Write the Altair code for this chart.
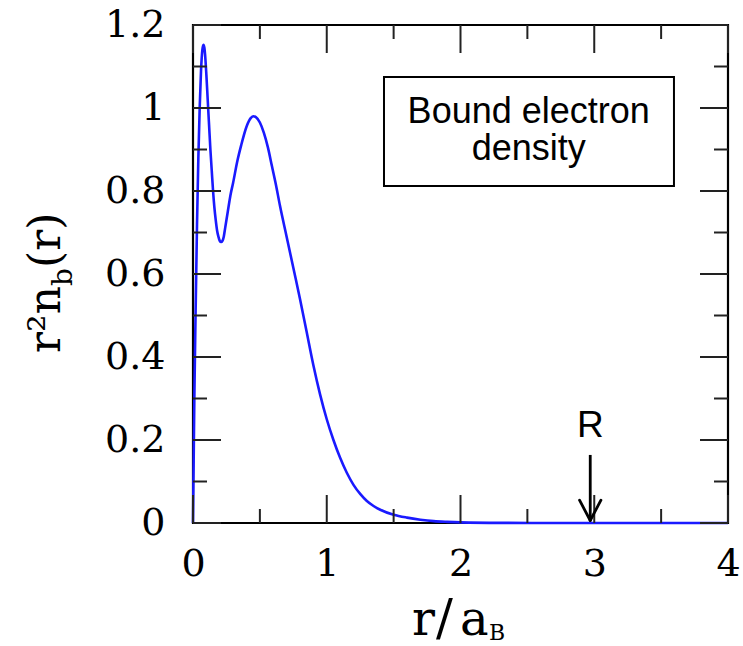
import altair as alt
import pandas as pd

# ---- data ----
r_vals = [0, 0.005, 0.01, 0.02, 0.03, 0.04, 0.05, 0.06, 0.07, 0.078,
          0.085, 0.09, 0.10, 0.11, 0.12, 0.13, 0.14, 0.15, 0.16, 0.17,
          0.18, 0.19, 0.20, 0.21, 0.22, 0.23, 0.24, 0.26, 0.28, 0.30,
          0.33, 0.36, 0.40, 0.43, 0.45, 0.47, 0.50, 0.53, 0.56, 0.59,
          0.62, 0.65, 0.70, 0.75, 0.80, 0.85, 0.90, 0.95, 1.00, 1.05,
          1.10, 1.15, 1.20, 1.25, 1.30, 1.35, 1.40, 1.50, 1.60, 1.70,
          1.80, 1.90, 2.00, 2.30, 2.60, 3.00, 3.50, 4.00]
density = [0, 0.15, 0.30, 0.52, 0.72, 0.88, 1.00, 1.09, 1.14, 1.152,
           1.145, 1.13, 1.08, 1.02, 0.96, 0.90, 0.85, 0.80, 0.76, 0.73,
           0.705, 0.69, 0.68, 0.677, 0.68, 0.69, 0.71, 0.75, 0.79, 0.82,
           0.87, 0.91, 0.955, 0.975, 0.980, 0.978, 0.965, 0.94, 0.905, 0.86,
           0.815, 0.765, 0.69, 0.615, 0.54, 0.46, 0.38, 0.31, 0.25, 0.20,
           0.157, 0.121, 0.092, 0.070, 0.053, 0.041, 0.032, 0.020, 0.013, 0.008,
           0.0045, 0.0027, 0.0015, 0.0003, 0.0001, 0, 0, 0]

x_major = [0, 1, 2, 3, 4]
x_minor = [0.5, 1.5, 2.5, 3.5]
y_major = [0, 0.2, 0.4, 0.6, 0.8, 1.0, 1.2]
y_minor = [0.1, 0.3, 0.5, 0.7, 0.9, 1.1]

box_r = [1.428]
box_r2 = [3.596]
box_v = [0.812]
box_v2 = [1.075]
box_lines = ["Bound electron", "density"]
box_line_r = [2.51, 2.51]
box_line_v = [0.964, 0.875]

marker_label = ["R"]
marker_r = [2.97]
marker_label_v = [0.207]
arrow_top_v = [0.164]
arrow_tip_v = [0.006]
wing_dr = 0.08
wing_v = 0.055

# ---- layout ----
W, H = 535, 498
SERIF = "DejaVu Serif"
SANS = "Liberation Sans"

xs = alt.Scale(domain=[0, 4], nice=False, zero=False)
ys = alt.Scale(domain=[0, 1.2], nice=False, zero=False)

AX = alt.Axis(values=x_major, format="d", title="", domain=False, ticks=False,
              grid=False, labelFont=SERIF, labelFontSize=38, labelColor="black",
              labelPadding=22, labelAngle=0, labelFlush=False, labelOverlap=False)
AY = alt.Axis(values=y_major, format="~g", title="", domain=False, ticks=False,
              grid=False, labelFont=SERIF, labelFontSize=38, labelColor="black",
              labelPadding=28, labelFlush=False, labelOverlap=False)


def X(field="r"):
    return alt.X(f"{field}:Q", scale=xs, axis=AX)


def Y(field="v"):
    return alt.Y(f"{field}:Q", scale=ys, axis=AY)


curve = alt.Chart(pd.DataFrame({"r": r_vals, "v": density})).mark_line(
    color="#1a1aff", strokeWidth=2.6, interpolate="monotone"
).encode(x=X(), y=Y())

TICK_COLOR = "#222222"


def xticks(vals, length, bottom):
    df = pd.DataFrame({"r": vals})
    y0, y1 = (H, H - length) if bottom else (0, length)
    return alt.Chart(df).mark_rule(color=TICK_COLOR, strokeWidth=2).encode(
        x=X(), y=alt.value(y0), y2=alt.value(y1))


def yticks(vals, length, left):
    df = pd.DataFrame({"v": vals})
    x0, x1 = (0, length) if left else (W, W - length)
    return alt.Chart(df).mark_rule(color=TICK_COLOR, strokeWidth=2).encode(
        y=Y(), x=alt.value(x0), x2=alt.value(x1))


MAJ, MIN = 28, 14
ticks = [
    xticks(x_major, MAJ, True), xticks(x_minor, MIN, True),
    xticks(x_major, MAJ, False), xticks(x_minor, MIN, False),
    yticks(y_major, MAJ, True), yticks(y_minor, MIN, True),
    yticks(y_major, MAJ, False), yticks(y_minor, MIN, False),
]

box = alt.Chart(pd.DataFrame({"r": box_r, "r2": box_r2, "v": box_v, "v2": box_v2})).mark_rect(
    fill="white", stroke="black", strokeWidth=2
).encode(x=X(), x2="r2:Q", y=Y(), y2="v2:Q")

box_text = alt.Chart(pd.DataFrame({"r": box_line_r, "v": box_line_v, "t": box_lines})).mark_text(
    font=SANS, fontSize=36, color="black", align="center", baseline="alphabetic"
).encode(x=X(), y=Y(), text="t:N")

r_text = alt.Chart(pd.DataFrame({"r": marker_r, "v": marker_label_v, "t": marker_label})).mark_text(
    font=SANS, fontSize=37, color="black", align="center", baseline="alphabetic"
).encode(x=X(), y=Y(), text="t:N")

shaft = alt.Chart(pd.DataFrame({"r": marker_r, "v": arrow_top_v, "v2": arrow_tip_v})).mark_rule(
    color="black", strokeWidth=2.8
).encode(x=X(), y=Y(), y2="v2:Q")

wings_df = pd.DataFrame({
    "r": [marker_r[0] - wing_dr, marker_r[0] + wing_dr],
    "r2": [marker_r[0], marker_r[0]],
    "v": [wing_v, wing_v],
    "v2": [arrow_tip_v[0], arrow_tip_v[0]],
})
wings = alt.Chart(wings_df).mark_rule(color="black", strokeWidth=2.8, strokeCap="round").encode(
    x=X(), x2="r2:Q", y=Y(), y2="v2:Q")

one = pd.DataFrame({"k": [0]})


def label(txt, x, y, size, angle=0):
    kw = dict(font=SERIF, fontSize=size, color="black", align="left", baseline="alphabetic")
    if angle:
        kw["angle"] = angle
    return alt.Chart(one).mark_text(**kw).encode(
        x=alt.value(x), y=alt.value(y), text=alt.value(txt))


# x title: r/a_B
xt_r = label("r", 219, 610, 48)
xt_s = label("/", 243, 610, 50)
xt_a = label("a", 267, 610, 48)
xt_b = label("B", 296, 615, 22)
# y title: r^2 n_b (r), rotated
yt1 = label("r²n", -133, 328, 44, 270)
yt2 = label("b", -121, 261, 28, 270)
yt3 = label("(r)", -133, 243, 44, 270)

chart = alt.layer(
    curve, *ticks, box, box_text, r_text, shaft, wings,
    xt_r, xt_s, xt_a, xt_b, yt1, yt2, yt3
).properties(
    width=W, height=H,
    autosize="none",
    padding={"left": 193, "top": 25, "right": 15, "bottom": 123},
    background="white",
).configure_view(stroke="black", strokeWidth=2.2)

chart.save("out.html", embed_options={"renderer": "svg", "actions": False})
